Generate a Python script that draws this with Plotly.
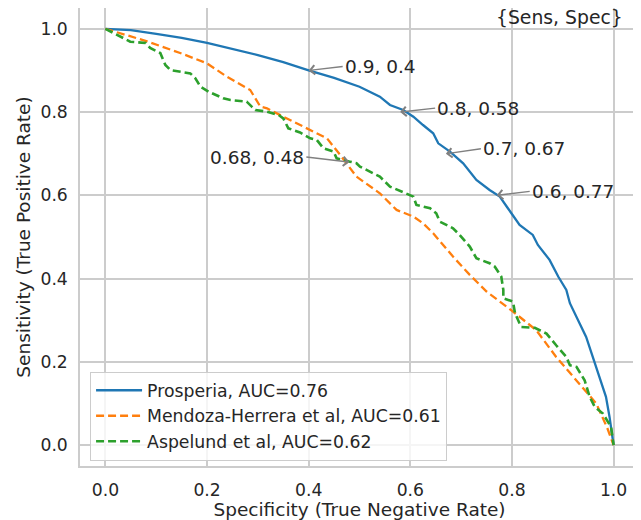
import plotly.graph_objects as go

# ---- data (specificity, sensitivity) ----
prosperia_spec = [0, 0.05, 0.1, 0.15, 0.2, 0.25, 0.3, 0.35, 0.4, 0.45, 0.5, 0.54, 0.56, 0.586,
                  0.606, 0.625, 0.645, 0.655, 0.678, 0.704, 0.73, 0.756, 0.776, 0.792, 0.815, 0.841,
                  0.851, 0.874, 0.891, 0.907, 0.914, 0.933, 0.946, 0.959, 0.972, 0.985, 0.992, 1.0]
prosperia_sens = [1, 0.997, 0.988, 0.978, 0.966, 0.952, 0.937, 0.92, 0.9, 0.882, 0.861, 0.837, 0.817,
                  0.805, 0.789, 0.769, 0.749, 0.725, 0.705, 0.677, 0.637, 0.613, 0.597, 0.569, 0.529,
                  0.505, 0.481, 0.445, 0.405, 0.373, 0.341, 0.293, 0.26, 0.212, 0.164, 0.116, 0.068, 0]

mendoza_spec = [0, 0.04, 0.082, 0.147, 0.2, 0.239, 0.285, 0.305, 0.318, 0.35, 0.396, 0.436, 0.462,
                0.494, 0.54, 0.573, 0.606, 0.625, 0.645, 0.684, 0.717, 0.75, 0.802, 0.848, 0.887,
                0.933, 0.966, 0.988, 1.0]
mendoza_sens = [1, 0.985, 0.97, 0.942, 0.917, 0.885, 0.853, 0.813, 0.809, 0.789, 0.761, 0.737, 0.697,
                0.645, 0.605, 0.565, 0.549, 0.533, 0.509, 0.453, 0.409, 0.369, 0.321, 0.276, 0.212,
                0.148, 0.1, 0.04, 0]

aspelund_spec = [0, 0.049, 0.079, 0.088, 0.108, 0.118, 0.128, 0.147, 0.167, 0.177, 0.187, 0.203,
                 0.232, 0.246, 0.278, 0.288, 0.295, 0.318, 0.341, 0.35, 0.36, 0.383, 0.403, 0.416,
                 0.429, 0.449, 0.455, 0.481, 0.494, 0.501, 0.54, 0.56, 0.593, 0.606, 0.612, 0.639,
                 0.651, 0.658, 0.684, 0.697, 0.717, 0.73, 0.756, 0.766, 0.779, 0.783, 0.783, 0.802,
                 0.806, 0.818, 0.845, 0.868, 0.887, 0.907, 0.914, 0.927, 0.943, 0.953, 0.963, 0.979,
                 0.995, 1.0]
aspelund_sens = [1, 0.969, 0.966, 0.954, 0.942, 0.913, 0.901, 0.897, 0.893, 0.881, 0.861, 0.849,
                 0.833, 0.829, 0.825, 0.813, 0.805, 0.801, 0.793, 0.785, 0.761, 0.751, 0.737, 0.733,
                 0.713, 0.705, 0.689, 0.681, 0.677, 0.669, 0.645, 0.621, 0.605, 0.597, 0.577, 0.569,
                 0.557, 0.537, 0.521, 0.505, 0.477, 0.449, 0.437, 0.429, 0.405, 0.373, 0.353, 0.345,
                 0.317, 0.284, 0.282, 0.268, 0.24, 0.212, 0.192, 0.188, 0.156, 0.116, 0.092, 0.076,
                 0.044, 0]

series_names = ["Prosperia, AUC=0.76", "Mendoza-Herrera et al, AUC=0.61", "Aspelund et al, AUC=0.62"]

# annotated operating points: (specificity, sensitivity)
point_spec = [0.4, 0.58, 0.67, 0.77, 0.48]
point_sens = [0.9, 0.8, 0.7, 0.6, 0.68]
point_labels = ["0.9, 0.4", "0.8, 0.58", "0.7, 0.67", "0.6, 0.77", "0.68, 0.48"]

tick_vals = [0.0, 0.2, 0.4, 0.6, 0.8, 1.0]
tick_text = ["0.0", "0.2", "0.4", "0.6", "0.8", "1.0"]

FONT = "DejaVu Sans"
TXT = "#262626"
GRID = "#cccccc"

fig = go.Figure()
fig.add_trace(go.Scatter(x=prosperia_spec, y=prosperia_sens, mode="lines", name=series_names[0],
                         line=dict(color="#1f77b4", width=2.3)))
fig.add_trace(go.Scatter(x=mendoza_spec, y=mendoza_sens, mode="lines", name=series_names[1],
                         line=dict(color="#ff7f0e", width=2.3, dash="8px,4px")))
fig.add_trace(go.Scatter(x=aspelund_spec, y=aspelund_sens, mode="lines", name=series_names[2],
                         line=dict(color="#2ca02c", width=2.6, dash="8px,4px")))

offsets = [(34, -4), (35, -4), (35, -5), (33, -4), (-43, -5)]
anchors = ["left", "left", "left", "left", "right"]
for sx, sy, lab, (ax, ay), anc in zip(point_spec, point_sens, point_labels, offsets, anchors):
    fig.add_annotation(x=sx, y=sy, text=lab, showarrow=True, ax=ax, ay=ay, xanchor=anc,
                       arrowhead=4, arrowsize=1.3, arrowwidth=1.4, arrowcolor="#808080",
                       font=dict(family=FONT, size=18.5, color=TXT), standoff=0)

fig.add_annotation(x=1.022, y=1.026, xref="x", yref="y", text="{Sens, Spec}", showarrow=False,
                   xanchor="right", yanchor="middle", font=dict(family=FONT, size=18.8, color=TXT))

axis_common = dict(range=[-0.05, 1.05], tickvals=tick_vals, ticktext=tick_text, showgrid=True,
                   gridcolor=GRID, gridwidth=1.5, zeroline=False, showline=True, mirror=True,
                   linecolor=GRID, linewidth=1.5, ticks="", automargin=False,
                   tickfont=dict(family=FONT, size=17.2, color=TXT))

# the page adds an 8px body margin, so the figure is 8px smaller and offset
fig.update_layout(
    width=633, height=512,
    margin=dict(l=72, r=2, t=0, b=54),
    paper_bgcolor="white", plot_bgcolor="white",
    font=dict(family=FONT, color=TXT),
    showlegend=True,
    legend=dict(x=0.018, y=0.012, xanchor="left", yanchor="bottom",
                bgcolor="rgba(255,255,255,0.8)", bordercolor=GRID, borderwidth=1,
                font=dict(family=FONT, size=17.3, color=TXT), tracegroupgap=0,
                itemwidth=46),
    hovermode=False,
)
fig.update_xaxes(**axis_common, ticklabelstandoff=8,
                 title=dict(text="Specificity (True Negative Rate)", standoff=4,
                            font=dict(family=FONT, size=18.5, color=TXT)))
fig.update_yaxes(**axis_common, ticklabelstandoff=7,
                 title=dict(text="Sensitivity (True Positive Rate)", standoff=5,
                            font=dict(family=FONT, size=18.5, color=TXT)))

fig.write_html("out.html")
